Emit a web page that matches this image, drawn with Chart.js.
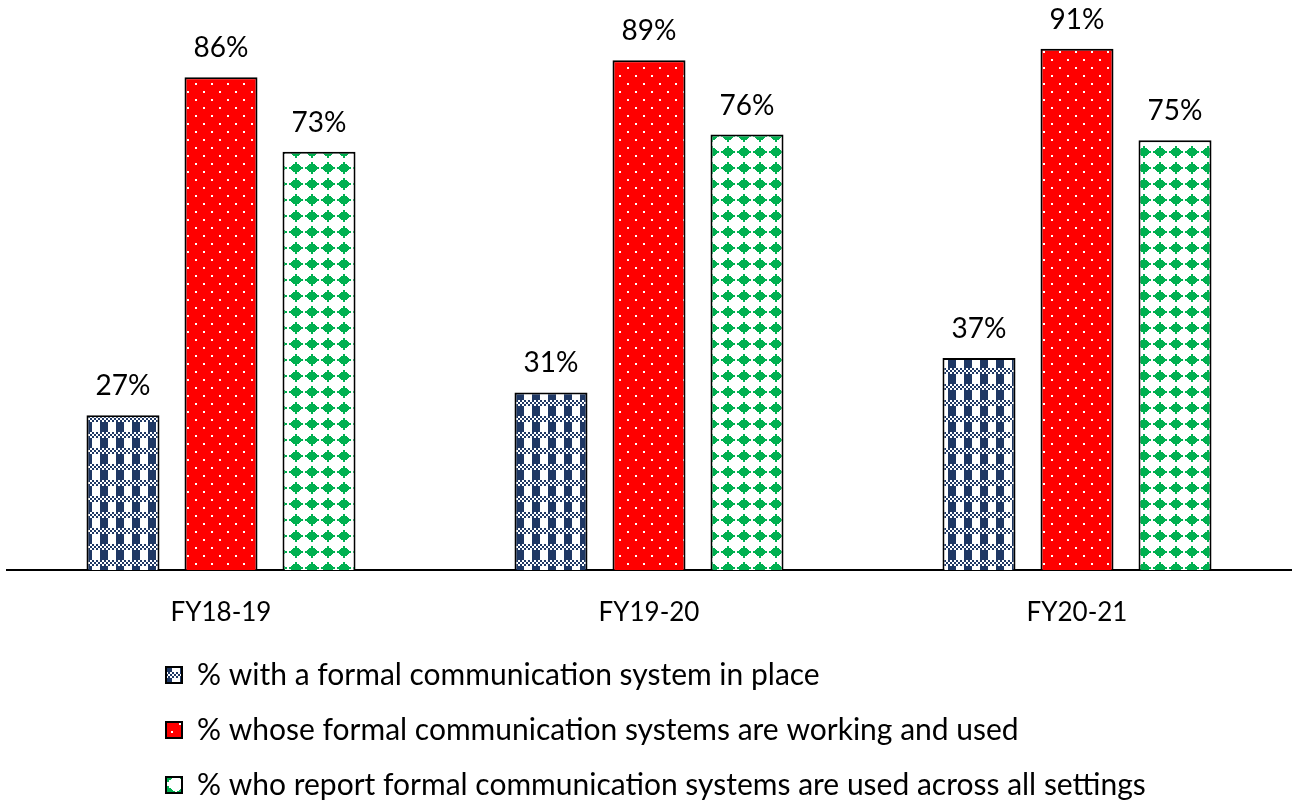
<!DOCTYPE html>
<html lang="en">

<script src="https://cdn.jsdelivr.net/npm/chart.js"></script>

<head>
  <meta charset="UTF-8">
  <title>Formal communication systems</title>
</head>

<style>
  html, body {
    margin: 0;
    padding: 0;
    background: #ffffff;
  }

  #wrap {
    width: 1294px;
    height: 802px;
  }
</style>

<body>
  <div id="wrap">
    <canvas id="chart"></canvas>
  </div>
</body>

<script>

  const years = ['FY18-19', 'FY19-20', 'FY20-21']
  const in_place = [27, 31, 37]
  const working_used = [86, 89, 91]
  const all_settings = [73, 76, 75]
  const series_names = [
    '% with a formal communication system in place',
    '% whose formal communication systems are working and used',
    '% who report formal communication systems are used across all settings'
  ]

  const FONT = 'Lato'
  const LEGEND_SIZE = 30
  const VALUE_SIZE = 28
  const TICK_SIZE = 26

  Chart.defaults.font.family = FONT
  Chart.defaults.color = '#000000'

  // little 16x16 tiles for the three fills
  function makeTile(drawFn) {
    var c = document.createElement('canvas')
    c.width = 16
    c.height = 16
    var g = c.getContext('2d')
    drawFn(g)
    return c
  }

  var ctx = document.getElementById('chart').getContext('2d')

  var blueTile = makeTile(g => {
    g.fillStyle = '#ffffff'
    g.fillRect(0, 0, 16, 16)
    g.fillStyle = '#1f3864'
    // vertical stripes
    g.fillRect(4, 6, 8, 10)
    // small checker band
    for (let y = 0; y < 6; y += 2) {
      for (let x = 0; x < 16; x += 2) {
        if (((x + y) / 2) % 2 == 0) g.fillRect(x, y, 2, 2)
      }
    }
  })

  var redTile = makeTile(g => {
    g.fillStyle = '#ff0000'
    g.fillRect(0, 0, 16, 16)
    g.fillStyle = '#ffffff'
    g.fillRect(3, 3, 2, 2)
    g.fillRect(11, 11, 2, 2)
  })

  var greenTile = makeTile(g => {
    g.fillStyle = '#ffffff'
    g.fillRect(0, 0, 16, 16)
    g.fillStyle = '#00b050'
    // stepped diamond with little tips
    const rows = [2, 2, 6, 8, 10, 14, 14, 10, 8, 6, 2, 2]
    for (let i = 0; i < rows.length; i++) {
      let w = rows[i]
      g.fillRect(8 - w / 2, 2 + i, w, 1)
    }
  })

  var bluePattern = ctx.createPattern(blueTile, 'repeat')
  var redPattern = ctx.createPattern(redTile, 'repeat')
  var greenPattern = ctx.createPattern(greenTile, 'repeat')

  // puts "27%" etc above each bar
  const valueLabels = {
    id: 'valueLabels',
    afterDatasetsDraw(chart) {
      var c = chart.ctx
      c.save()
      c.font = VALUE_SIZE + 'px ' + FONT
      c.fillStyle = '#000000'
      c.textAlign = 'center'
      c.textBaseline = 'alphabetic'
      chart.data.datasets.forEach((ds, i) => {
        chart.getDatasetMeta(i).data.forEach((bar, j) => {
          c.fillText(ds.data[j] + '%', bar.x, bar.y - 20)
        })
      })
      c.restore()
    }
  }

  // legend sits left-ish, not at the canvas edge, and a bit lower
  const legendShift = {
    id: 'legendShift',
    afterLayout(chart) {
      var pad = chart.options.plugins.legend.labels.padding
      chart.legend.left = 166 - pad
      chart.legend.top = 675 - pad - LEGEND_SIZE / 2
    }
  }

  new Chart(ctx, {
    type: 'bar',
    data: {
      labels: years,
      datasets: [
        {
          label: series_names[0],
          data: in_place,
          backgroundColor: bluePattern,
          borderColor: '#000000',
          borderWidth: 2
        },
        {
          label: series_names[1],
          data: working_used,
          backgroundColor: redPattern,
          borderColor: '#000000',
          borderWidth: 2
        },
        {
          label: series_names[2],
          data: all_settings,
          backgroundColor: greenPattern,
          borderColor: '#000000',
          borderWidth: 2
        }
      ]
    },
    options: {
      responsive: true,
      maintainAspectRatio: false,
      animation: false,
      categoryPercentage: 0.687,
      barPercentage: 0.745,
      layout: {
        padding: { left: 7, right: 3, top: 0, bottom: 0 }
      },
      scales: {
        x: {
          grid: { display: false },
          border: { color: '#000000', width: 2 },
          ticks: {
            font: { size: TICK_SIZE },
            color: '#000000',
            padding: 19
          },
          afterFit(scale) {
            scale.height = 64
          }
        },
        y: {
          display: false,
          min: 0,
          max: 99.5
        }
      },
      plugins: {
        tooltip: { enabled: false },
        legend: {
          position: 'bottom',
          align: 'start',
          maxHeight: 168,
          labels: {
            boxWidth: 16,
            boxHeight: 16,
            padding: 25,
            color: '#000000',
            font: { size: LEGEND_SIZE }
          }
        }
      }
    },
    plugins: [valueLabels, legendShift]
  });

</script>

</html>
